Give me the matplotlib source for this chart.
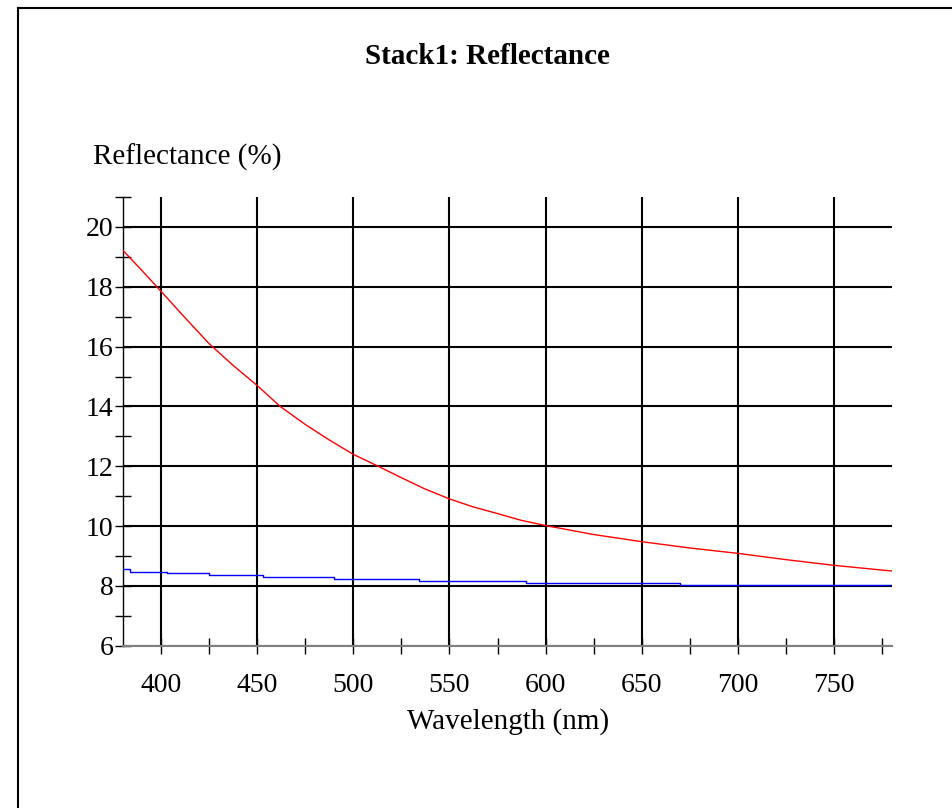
import numpy as np
import matplotlib
matplotlib.use('Agg')
import matplotlib.pyplot as plt
from matplotlib.lines import Line2D
from matplotlib.ticker import MultipleLocator

matplotlib.rcParams['font.family'] = 'Liberation Serif'

# red curve
wl_red = [380, 390, 400, 412, 425, 437, 450, 462, 475, 487, 500, 513, 525, 537,
          550, 562, 575, 587, 600, 625, 650, 675, 700, 725, 750, 780]
refl_red = [19.23, 18.55, 17.85, 17.0, 16.1, 15.4, 14.7, 14.0, 13.4, 12.9, 12.4, 12.0,
            11.62, 11.25, 10.91, 10.65, 10.42, 10.2, 10.02, 9.72, 9.48, 9.27, 9.09,
            8.88, 8.69, 8.50]

# blue curve (stepped)
wl_blue = [380, 384, 403, 425, 453, 490, 534, 590, 670, 780]
refl_blue = [8.56, 8.48, 8.42, 8.37, 8.29, 8.22, 8.16, 8.10, 8.04, 8.04]

xticks = [400, 450, 500, 550, 600, 650, 700, 750]
yticks = [6, 8, 10, 12, 14, 16, 18, 20]

fig = plt.figure(figsize=(9.52, 8.08), dpi=100)
ax = fig.add_axes([0.1287, 0.2007, 0.808, 0.5555])

ax.plot(wl_red, refl_red, color='#ff0000', lw=1.0, zorder=3)
ax.step(wl_blue, refl_blue, where='post', color='#0000ff', lw=1.0, zorder=3)

ax.set_xlim(380, 780)
ax.set_ylim(6, 21)
ax.set_xticks(xticks)
ax.set_yticks(yticks)
ax.xaxis.set_minor_locator(MultipleLocator(25))
ax.yaxis.set_minor_locator(MultipleLocator(1))
ax.tick_params(which='both', direction='inout', length=11, width=1, colors='black',
               labelsize=20)
ax.tick_params(axis='y', pad=1)
ax.tick_params(axis='x', pad=14)
ax.set_axisbelow(True)
ax.grid(True, which='major', color='black', lw=1.5)

for s in ['top', 'right']:
    ax.spines[s].set_visible(False)
ax.spines['left'].set_linewidth(1)
ax.spines['bottom'].set_color('#808080')
ax.spines['bottom'].set_linewidth(1.5)

fig.text(487 / 952, 1 - 57 / 808, 'Stack1: Reflectance', ha='center', va='center',
         fontsize=21, fontweight='bold')
fig.text(93 / 952, 1 - 157 / 808, 'Reflectance (%)', ha='left', va='center', fontsize=21)
fig.text(508 / 952, 1 - 722 / 808, 'Wavelength (nm)', ha='center', va='center', fontsize=21)

# outer frame (left and top edges visible)
fx = 18 / 952
fy = 1 - 8 / 808
fig.add_artist(Line2D([fx, fx], [0, fy], color='black', lw=1.5, transform=fig.transFigure))
fig.add_artist(Line2D([fx, 1], [fy, fy], color='black', lw=1.5, transform=fig.transFigure))

fig.savefig('out.png', dpi=100)
